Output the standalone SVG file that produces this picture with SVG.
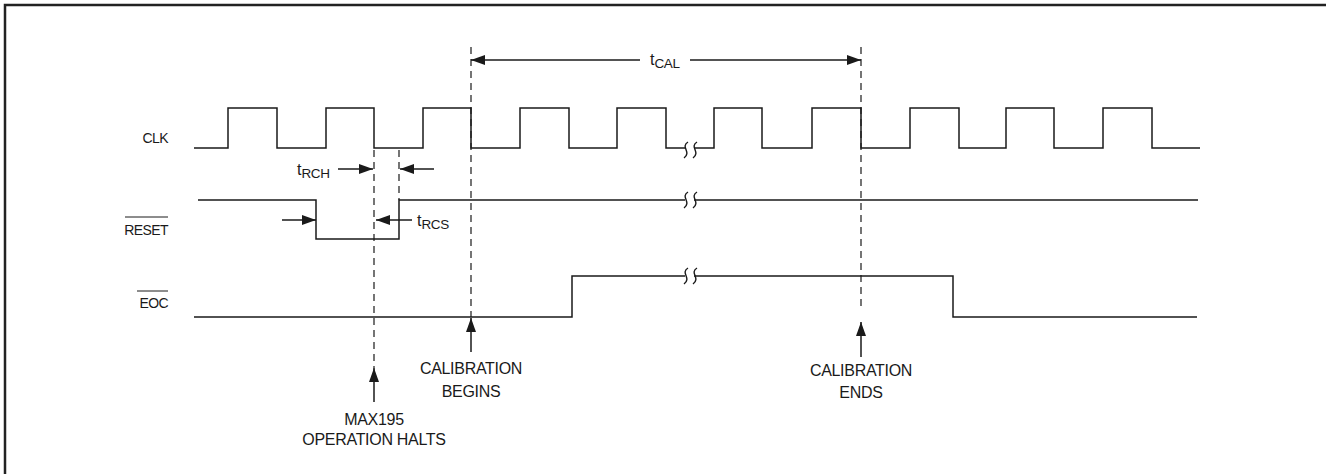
<svg xmlns="http://www.w3.org/2000/svg" width="1326" height="474" viewBox="0 0 1326 474">
<style>
text{font-family:"Liberation Sans",Arial,sans-serif;fill:#1a1a1a}
.lbl{font-size:14px;text-anchor:end;letter-spacing:-0.6px}
.cap{font-size:16px;text-anchor:middle;letter-spacing:-0.3px}
.sub{font-size:13.5px;letter-spacing:-0.4px}
.tm{font-size:16px}
.wave{fill:none;stroke:#1a1a1a;stroke-width:1.5}
.dash{fill:none;stroke:#1a1a1a;stroke-width:1.2;stroke-dasharray:7 5}
.arr{fill:none;stroke:#1a1a1a;stroke-width:1.5}
.sq{fill:none;stroke:#1a1a1a;stroke-width:1.4}
</style>
<defs>
<marker id="ah" markerUnits="userSpaceOnUse" markerWidth="15" markerHeight="11" refX="14" refY="5" orient="auto">
<path d="M0,0 L14,5 L0,10 z" fill="#1a1a1a"/>
</marker>
<path id="squig" d="M3,-8 C-5,-3 7,2 -1,8"/>
</defs>
<rect width="1326" height="474" fill="#fff"/>
<path d="M5,474 V5 H1326" fill="none" stroke="#222" stroke-width="2.5"/>

<g id="clk">
<text class="lbl" x="168" y="143">CLK</text>
<path class="wave" d="M194,148 H228 V108 H277 V148 H326 V108 H374 V148 H423 V108 H471 V148 H520 V108 H569 V148 H617 V108 H666 V148 H685 M694,148 H714 V108 H762 V148 H812 V108 H861 V148 H910 V108 H959 V148 H1006 V108 H1054 V148 H1103 V108 H1152 V148 H1200"/>
<use href="#squig" class="sq" x="685" y="150"/>
<use href="#squig" class="sq" x="694" y="150"/>
</g>

<g id="reset">
<text class="lbl" x="168" y="235">RESET</text>
<line x1="125" y1="217" x2="168" y2="217" stroke="#1a1a1a" stroke-width="1"/>
<path class="wave" d="M198,200 H316 V239 H399 V200 H685 M694,200 H1198"/>
<use href="#squig" class="sq" x="685" y="200"/>
<use href="#squig" class="sq" x="694" y="200"/>
</g>

<g id="eoc">
<text class="lbl" x="168" y="308">EOC</text>
<line x1="137" y1="291" x2="168" y2="291" stroke="#1a1a1a" stroke-width="1"/>
<path class="wave" d="M194,317 H572 V276 H685 M694,276 H953 V317 H1197"/>
<use href="#squig" class="sq" x="685" y="276"/>
<use href="#squig" class="sq" x="694" y="276"/>
</g>

<g id="connectors">
<line class="dash" x1="374" y1="150" x2="374" y2="368"/>
<line class="dash" x1="399" y1="150" x2="399" y2="200"/>
<line class="dash" x1="471" y1="47" x2="471" y2="317"/>
<line class="dash" x1="861" y1="47" x2="861" y2="310"/>
<line class="arr" x1="640" y1="60" x2="471" y2="60" marker-end="url(#ah)"/>
<line class="arr" x1="690" y1="60" x2="861" y2="60" marker-end="url(#ah)"/>
<line class="arr" x1="338" y1="169" x2="373" y2="169" marker-end="url(#ah)"/>
<line class="arr" x1="434" y1="169" x2="400" y2="169" marker-end="url(#ah)"/>
<line class="arr" x1="282" y1="220" x2="316" y2="220" marker-end="url(#ah)"/>
<line class="arr" x1="412" y1="220" x2="376" y2="220" marker-end="url(#ah)"/>
<line class="arr" x1="374" y1="402" x2="374" y2="368" marker-end="url(#ah)"/>
<line class="arr" x1="471" y1="352" x2="471" y2="318" marker-end="url(#ah)"/>
<line class="arr" x1="861" y1="357" x2="861" y2="322" marker-end="url(#ah)"/>
</g>

<g id="tcal"><text class="tm" x="650" y="65">t<tspan class="sub" dy="3">CAL</tspan></text></g>
<g id="trch"><text class="tm" x="297" y="175">t<tspan class="sub" dy="3">RCH</tspan></text></g>
<g id="trcs"><text class="tm" x="417" y="226">t<tspan class="sub" dy="3">RCS</tspan></text></g>

<g id="halts">
<text class="cap" x="374" y="425">MAX195</text>
<text class="cap" x="374" y="445">OPERATION HALTS</text>
</g>
<g id="begins">
<text class="cap" x="471" y="374">CALIBRATION</text>
<text class="cap" x="471" y="397">BEGINS</text>
</g>
<g id="ends">
<text class="cap" x="861" y="376">CALIBRATION</text>
<text class="cap" x="861" y="398">ENDS</text>
</g>
</svg>
